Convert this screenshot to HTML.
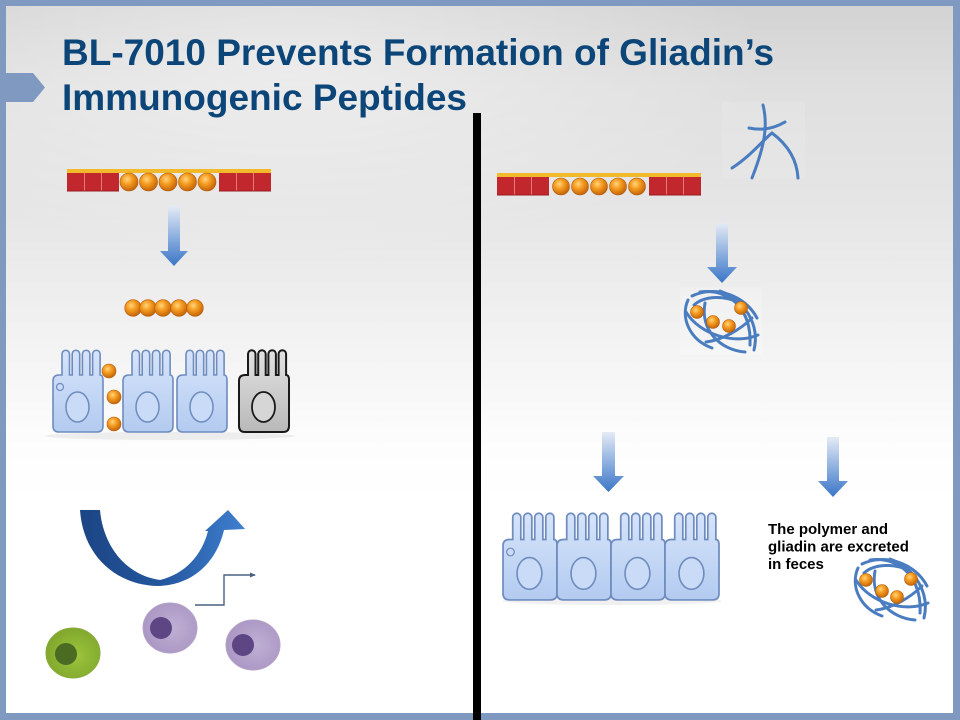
<!DOCTYPE html>
<html>
<head>
<meta charset="utf-8">
<style>
  html,body{margin:0;padding:0;width:960px;height:720px;overflow:hidden;background:#fff;}
  svg{display:block;}
</style>
</head>
<body>
<svg width="960" height="720" viewBox="0 0 960 720" xmlns="http://www.w3.org/2000/svg">
  <defs>
    <linearGradient id="bg" x1="0" y1="0" x2="0" y2="1">
      <stop offset="0" stop-color="#d2d2d2"/>
      <stop offset="0.12" stop-color="#dfdfdf"/>
      <stop offset="0.3" stop-color="#e6e6e6"/>
      <stop offset="0.48" stop-color="#f3f3f3"/>
      <stop offset="0.62" stop-color="#fdfdfd"/>
      <stop offset="0.7" stop-color="#ffffff"/>
    </linearGradient>
    <radialGradient id="hl" cx="0.3" cy="0.15" r="0.5">
      <stop offset="0" stop-color="#ffffff" stop-opacity="0.45"/>
      <stop offset="1" stop-color="#ffffff" stop-opacity="0"/>
    </radialGradient>
    <radialGradient id="ball" cx="0.4" cy="0.35" r="0.65">
      <stop offset="0" stop-color="#ffd57e"/>
      <stop offset="0.45" stop-color="#f59b1f"/>
      <stop offset="1" stop-color="#c4650b"/>
    </radialGradient>
    <linearGradient id="arr" x1="0" y1="0" x2="0" y2="1">
      <stop offset="0" stop-color="#e4ebf5"/>
      <stop offset="0.6" stop-color="#7ea5db"/>
      <stop offset="1" stop-color="#3a76c6"/>
    </linearGradient>
    <linearGradient id="cellfill" x1="0" y1="0" x2="0" y2="1">
      <stop offset="0" stop-color="#d6e4fa"/>
      <stop offset="1" stop-color="#b3cbf0"/>
    </linearGradient>
    <linearGradient id="grayfill" x1="0" y1="0" x2="0" y2="1">
      <stop offset="0" stop-color="#e2e2e2"/>
      <stop offset="1" stop-color="#b9b9b9"/>
    </linearGradient>
    <linearGradient id="curv" x1="0" y1="0" x2="1" y2="0">
      <stop offset="0" stop-color="#1b4584"/>
      <stop offset="0.5" stop-color="#24579e"/>
      <stop offset="1" stop-color="#3f80d0"/>
    </linearGradient>
    <radialGradient id="green" cx="0.55" cy="0.55" r="0.6">
      <stop offset="0" stop-color="#9cc53e"/>
      <stop offset="1" stop-color="#7ea52b"/>
    </radialGradient>
    <radialGradient id="purple" cx="0.55" cy="0.5" r="0.6">
      <stop offset="0" stop-color="#c0b0d4"/>
      <stop offset="1" stop-color="#a994c2"/>
    </radialGradient>
    <path id="cellpath" d="M0 76 L0 31 Q0 25 6 25 L9 25 L9 4 A3.75 3.75 0 0 1 16.5 4 L16.5 25 L19.2 25 L19.2 4 A3.75 3.75 0 0 1 26.7 4 L26.7 25 L29.4 25 L29.4 4 A3.75 3.75 0 0 1 36.9 4 L36.9 25 L39.6 25 L39.6 4 A3.75 3.75 0 0 1 47.1 4 L47.1 25 Q50 25 50 30 L50 76 Q50 82 44 82 L6 82 Q0 82 0 76 Z"/>
    <g id="bluecell">
      <use href="#cellpath" fill="url(#cellfill)" stroke="#6f8cbf" stroke-width="1.6"/>
      <ellipse cx="24.5" cy="57" rx="11.5" ry="15" fill="#c9dbf7" stroke="#6f8cbf" stroke-width="1.5"/>
    </g>
    <g id="strands" fill="none" stroke="#4a7cc0" stroke-width="3" stroke-linecap="round">
      <path d="M688 300 C680 318 690 340 712 348"/>
      <path d="M692 296 C715 285 745 295 757 318"/>
      <path d="M700 292 C730 288 752 310 750 345"/>
      <path d="M705 303 C700 330 720 350 745 352"/>
      <path d="M686 312 C700 335 735 345 758 335"/>
      <path d="M720 291 C745 300 760 325 754 350"/>
      <path d="M694 305 C705 295 725 296 738 302"/>
      <path d="M706 342 C722 340 740 330 752 318"/>
    </g>
    <marker id="mk" markerWidth="6" markerHeight="6" refX="5" refY="3" orient="auto" markerUnits="userSpaceOnUse">
      <path d="M0 0.5 L6 3 L0 5.5 Z" fill="#4a6080"/>
    </marker>
  </defs>

  <!-- background -->
  <rect x="0" y="0" width="960" height="720" fill="url(#bg)"/>
  <rect x="0" y="0" width="960" height="400" fill="url(#hl)"/>

  <!-- frame -->
  <rect x="0" y="0" width="960" height="6" fill="#8099c1"/>
  <rect x="0" y="0" width="6" height="720" fill="#8099c1"/>
  <rect x="953" y="0" width="7" height="720" fill="#8099c1"/>
  <rect x="0" y="713" width="960" height="7" fill="#8099c1"/>
  <polygon points="0,73 33,73 45,87.5 33,102 0,102" fill="#8099c1"/>

  <!-- title -->
  <text x="62" y="65" font-family="Liberation Sans, Arial, sans-serif" font-weight="bold" font-size="37" fill="#0c4679">BL-7010 Prevents Formation of Gliadin’s</text>
  <text x="62" y="110" font-family="Liberation Sans, Arial, sans-serif" font-weight="bold" font-size="37" fill="#0c4679">Immunogenic Peptides</text>

  <!-- divider -->
  <rect x="473" y="113" width="8" height="607" fill="#000"/>

  <!-- LEFT: gliadin bar -->
  <rect x="67" y="169" width="204" height="4" fill="#f2b92b"/>
  <rect x="67" y="173" width="52" height="18" fill="#c1272d"/>
  <rect x="219" y="173" width="52" height="18" fill="#c1272d"/>
  <g stroke="#e47a7a" stroke-width="1">
    <line x1="84.5" y1="173" x2="84.5" y2="191"/><line x1="101.5" y1="173" x2="101.5" y2="191"/>
    <line x1="236.5" y1="173" x2="236.5" y2="191"/><line x1="253.5" y1="173" x2="253.5" y2="191"/>
  </g>
  <rect x="67" y="190" width="52" height="2" fill="#9a1c20" opacity="0.5"/>
  <rect x="219" y="190" width="52" height="2" fill="#9a1c20" opacity="0.5"/>
  <g fill="url(#ball)" stroke="#b45c0a" stroke-width="0.6">
    <circle cx="129" cy="182" r="9"/><circle cx="148.5" cy="182" r="9"/><circle cx="168" cy="182" r="9"/><circle cx="187.5" cy="182" r="9"/><circle cx="207" cy="182" r="9"/>
  </g>

  <!-- left arrow -->
  <path d="M168 206 L180 206 L180 251 L188 251 L174 266 L160 251 L168 251 Z" fill="url(#arr)"/>

  <!-- 5 balls -->
  <g fill="url(#ball)" stroke="#b45c0a" stroke-width="0.6">
    <circle cx="133" cy="308" r="8.3"/><circle cx="148" cy="308" r="8.3"/><circle cx="163" cy="308" r="8.3"/><circle cx="179" cy="308" r="8.3"/><circle cx="195" cy="308" r="8.3"/>
  </g>

  <!-- left cells -->
  <ellipse cx="170" cy="436" rx="125" ry="4" fill="#000" opacity="0.06"/>
  <use href="#bluecell" transform="translate(53,350)"/>
  <circle cx="60" cy="387" r="3.5" fill="#c9dbf7" stroke="#6f8cbf" stroke-width="1.2"/>
  <use href="#bluecell" transform="translate(123,350)"/>
  <use href="#bluecell" transform="translate(177,350)"/>
  <g transform="translate(239,350)">
    <use href="#cellpath" fill="url(#grayfill)" stroke="#1a1a1a" stroke-width="2"/>
    <ellipse cx="24.5" cy="57" rx="11.5" ry="15" fill="#d6d6d6" stroke="#1a1a1a" stroke-width="1.8"/>
  </g>
  <g fill="url(#ball)" stroke="#b45c0a" stroke-width="0.6">
    <circle cx="109" cy="371" r="7"/><circle cx="114" cy="397" r="7"/><circle cx="114" cy="424" r="7"/>
  </g>

  <!-- curved arrow -->
  <path d="M80 510 L100 510 C103 545 125 575 160 580 C185 574 202 555 208 531 L205 531 L228 510 L245 529 L224 530 C217 560 195 585 158 586 C115 585 83 555 80 510 Z" fill="url(#curv)"/>

  <!-- connector -->
  <polyline points="195,605 224,605 224,575 255,575" fill="none" stroke="#4a6080" stroke-width="1.4" marker-end="url(#mk)"/>

  <!-- immune cells -->
  <ellipse cx="73" cy="653" rx="27" ry="25" fill="url(#green)" stroke="#88ad3a" stroke-width="1"/>
  <circle cx="66" cy="654" r="11" fill="#4b6a22"/>
  <ellipse cx="170" cy="628" rx="27" ry="25" fill="url(#purple)" stroke="#b4a3c9" stroke-width="1"/>
  <circle cx="161" cy="628" r="11" fill="#5e4584"/>
  <ellipse cx="253" cy="645" rx="27" ry="25" fill="url(#purple)" stroke="#b4a3c9" stroke-width="1"/>
  <circle cx="243" cy="645" r="11" fill="#5e4584"/>

  <!-- RIGHT: gliadin bar -->
  <rect x="497" y="173" width="204" height="4" fill="#f2b92b"/>
  <rect x="497" y="177" width="52" height="18" fill="#c1272d"/>
  <rect x="649" y="177" width="52" height="18" fill="#c1272d"/>
  <g stroke="#e47a7a" stroke-width="1">
    <line x1="514.5" y1="177" x2="514.5" y2="195"/><line x1="531.5" y1="177" x2="531.5" y2="195"/>
    <line x1="666.5" y1="177" x2="666.5" y2="195"/><line x1="683.5" y1="177" x2="683.5" y2="195"/>
  </g>
  <rect x="497" y="194" width="52" height="2" fill="#9a1c20" opacity="0.5"/>
  <rect x="649" y="194" width="52" height="2" fill="#9a1c20" opacity="0.5"/>
  <g fill="url(#ball)" stroke="#b45c0a" stroke-width="0.6">
    <circle cx="561" cy="186.5" r="8.5"/><circle cx="580" cy="186.5" r="8.5"/><circle cx="599" cy="186.5" r="8.5"/><circle cx="618" cy="186.5" r="8.5"/><circle cx="637" cy="186.5" r="8.5"/>
  </g>

  <!-- polymer strands top -->
  <rect x="722" y="102" width="83" height="76" fill="#ffffff" opacity="0.1"/>
  <g fill="none" stroke="#4a7cc0" stroke-width="3" stroke-linecap="round">
    <path d="M763 105 C768 125 765 145 752 178"/>
    <path d="M749 128 Q768 132 785 122"/>
    <path d="M732 168 C752 155 765 138 772 133 C788 145 797 160 798 178"/>
  </g>

  <!-- right arrows -->
  <path d="M716 223 L728 223 L728 267 L737 267 L722 283 L707 267 L716 267 Z" fill="url(#arr)"/>
  <path d="M602 432 L615 432 L615 476 L624 476 L608.5 492 L593 476 L602 476 Z" fill="url(#arr)"/>
  <path d="M827 437 L839 437 L839 481 L848 481 L833 497 L818 481 L827 481 Z" fill="url(#arr)"/>

  <!-- polymer ball upper -->
  <rect x="680" y="287" width="82" height="68" fill="#ffffff" opacity="0.2"/>
  <use href="#strands"/>
  <g fill="url(#ball)" stroke="#b45c0a" stroke-width="0.6">
    <circle cx="697" cy="312" r="6.5"/><circle cx="713" cy="322" r="6.5"/><circle cx="729" cy="326" r="6.5"/><circle cx="741" cy="308" r="6.5"/>
  </g>

  <!-- right cells -->
  <ellipse cx="612" cy="601" rx="110" ry="4" fill="#000" opacity="0.06"/>
  <use href="#bluecell" transform="translate(503,513) scale(1.08,1.06)"/>
  <circle cx="510.5" cy="552" r="3.8" fill="#c9dbf7" stroke="#6f8cbf" stroke-width="1.2"/>
  <use href="#bluecell" transform="translate(557,513) scale(1.08,1.06)"/>
  <use href="#bluecell" transform="translate(611,513) scale(1.08,1.06)"/>
  <use href="#bluecell" transform="translate(665,513) scale(1.08,1.06)"/>

  <!-- text -->
  <g font-family="Liberation Sans, Arial, sans-serif" font-weight="bold" font-size="15" fill="#000">
    <text x="768" y="534">The polymer and</text>
    <text x="768" y="551.5">gliadin are excreted</text>
    <text x="768" y="569">in feces</text>
  </g>

  <!-- polymer ball lower -->
  <rect x="850" y="557" width="81" height="70" fill="#ffffff"/>
  <use href="#strands" transform="translate(170,268)"/>
  <g fill="url(#ball)" stroke="#b45c0a" stroke-width="0.6">
    <circle cx="866" cy="580" r="6.5"/><circle cx="882" cy="591" r="6.5"/><circle cx="897" cy="597" r="6.5"/><circle cx="911" cy="579" r="6.5"/>
  </g>
</svg>
</body>
</html>
